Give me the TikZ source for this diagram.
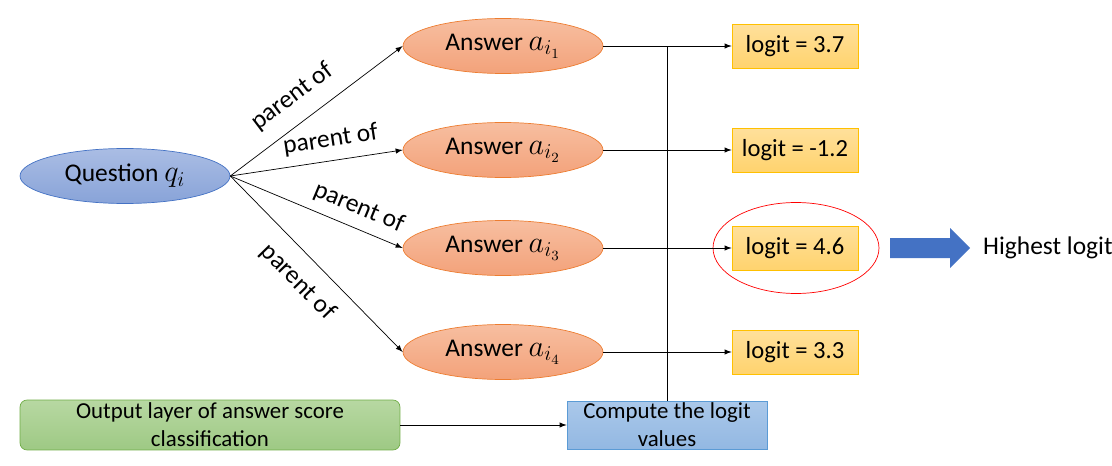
\documentclass[tikz,border=0pt]{standalone}
\usepackage{amssymb,amsmath}
\usepackage{fontspec}
\setmainfont{Carlito}
\usepackage{tikz}
\usetikzlibrary{arrows,shapes.geometric}

\definecolor{qtop}{RGB}{170,189,228}
\definecolor{qbot}{RGB}{136,163,216}
\definecolor{qline}{RGB}{68,114,196}
\definecolor{atop}{RGB}{247,190,160}
\definecolor{abot}{RGB}{243,162,122}
\definecolor{aline}{RGB}{237,125,49}
\definecolor{ltop}{RGB}{255,224,155}
\definecolor{lbot}{RGB}{255,211,110}
\definecolor{lline}{RGB}{255,192,0}
\definecolor{otop}{RGB}{183,216,162}
\definecolor{obot}{RGB}{158,201,132}
\definecolor{oline}{RGB}{112,173,71}
\definecolor{ctop}{RGB}{170,200,234}
\definecolor{cbot}{RGB}{147,184,226}
\definecolor{cline}{RGB}{91,155,213}
\definecolor{bigarrow}{RGB}{68,114,196}

\newcommand{\symb}[1]{{\fontsize{17}{17}\selectfont$#1$}}

\begin{document}
\begin{tikzpicture}[x=0.02cm, y=-0.02cm,
  question/.style={draw=qline, ellipse, top color=qtop, bottom color=qbot,
    minimum width=4.2cm, minimum height=1.1cm, inner sep=0pt,
    font=\fontsize{14.5}{17}\selectfont},
  answer/.style={draw=aline, ellipse, top color=atop, bottom color=abot,
    minimum width=4cm, minimum height=1.1cm, inner sep=0pt,
    font=\fontsize{14.5}{17}\selectfont},
  logit/.style={draw=lline, rectangle, top color=ltop, bottom color=lbot,
    minimum width=2.52cm, minimum height=0.88cm, inner sep=0pt,
    font=\fontsize{14}{16}\selectfont},
  lbl/.style={font=\fontsize{14.5}{17}\selectfont}]
\useasboundingbox (0,0) rectangle (1112,466);

\node[question] at (125,176) (q) {Question \symb{q_i}};

\node[answer] at (503,46) (a1) {Answer \symb{a_{i_1}}};
\node[answer] at (503,150) (a2) {Answer \symb{a_{i_2}}};
\node[answer] at (503,248) (a3) {Answer \symb{a_{i_3}}};
\node[answer] at (503,352) (a4) {Answer \symb{a_{i_4}}};

\node[logit] at (795,46) (l1) {logit = 3.7};
\node[logit] at (795,150) (l2) {logit = -1.2};
\node[logit] at (795,248) (l3) {logit = 4.6};
\node[logit] at (795,352) (l4) {logit = 3.3};

\node[draw=red, ellipse, minimum width=3.32cm, minimum height=1.82cm, inner sep=0pt] at (796,248) (best) {};

\node[draw=oline, rounded corners=4pt, top color=otop, bottom color=obot,
  minimum width=7.6cm, minimum height=1cm, inner sep=0pt, align=center,
  font=\fontsize{13}{16}\selectfont] at (210,425) (out) {Output layer of answer score\\classification};
\node[draw=cline, top color=ctop, bottom color=cbot,
  minimum width=4cm, minimum height=0.96cm, inner sep=0pt, align=center,
  font=\fontsize{13}{16}\selectfont] at (667,425) (comp) {Compute the logit\\values};

\path[->, >=latex] (q.east) edge node[lbl, pos=0.45, above=5pt, sloped]{parent of} (a1.west);
\path[->, >=latex] (q.east) edge node[lbl, pos=0.6, above=2pt, sloped]{parent of} (a2.west);
\path[->, >=latex] (q.east) edge node[lbl, pos=0.7, above=2pt, sloped]{parent of} (a3.west);
\path[->, >=latex] (q.east) edge node[lbl, pos=0.5, below=5pt, sloped]{parent of} (a4.west);

\path[->, >=latex] (a1.east) edge (l1.west);
\path[->, >=latex] (a2.east) edge (l2.west);
\path[->, >=latex] (a3.east) edge (l3.west);
\path[->, >=latex] (a4.east) edge (l4.west);

\draw (comp.north) -- (comp.north |- a1.east);
\path[->, >=latex] (out.east) edge (comp.west);

\fill[bigarrow] (890,238) -- (950,238) -- (950,228) -- (970,248) -- (950,268)
  -- (950,258) -- (890,258) -- cycle;
\node[lbl, anchor=west] at (977,248) (top) {Highest logit};

\end{tikzpicture}
\end{document}
